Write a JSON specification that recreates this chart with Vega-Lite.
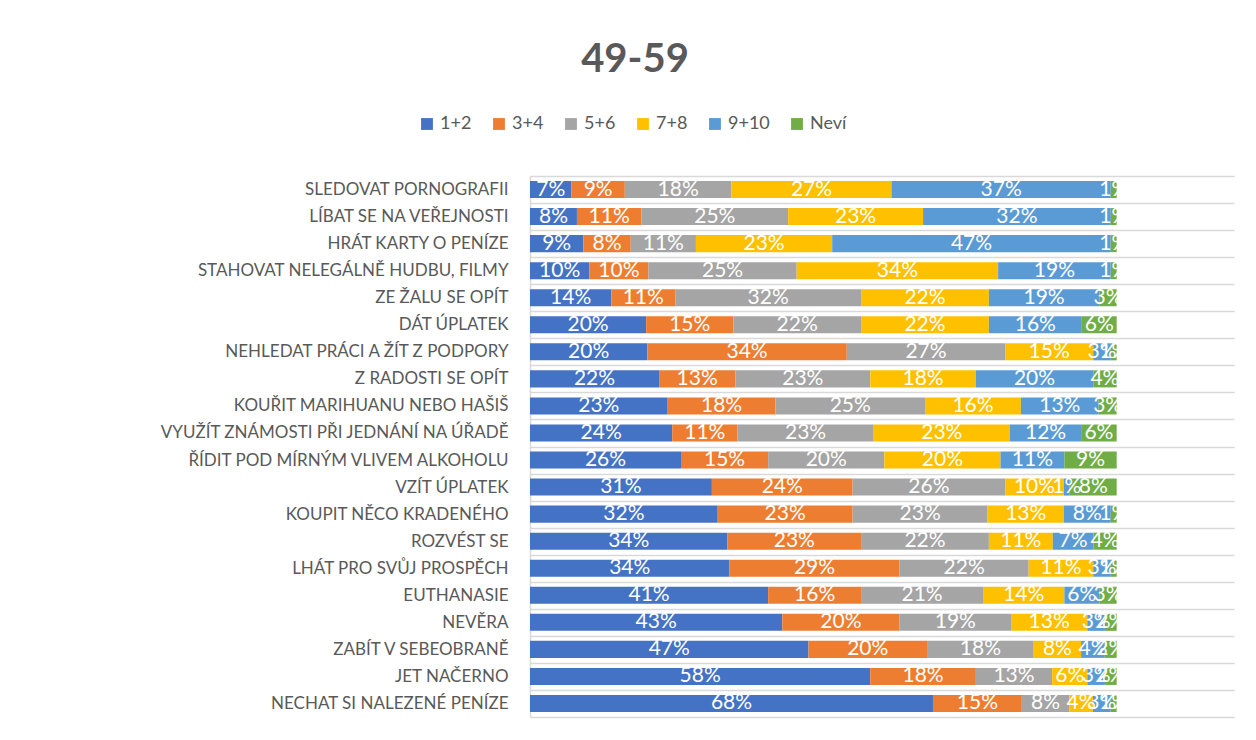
{
  "$schema": "https://vega.github.io/schema/vega-lite/v6.json",
  "autosize": {"type": "none"},
  "padding": {"left": 530, "top": 176, "right": 22, "bottom": 23},
  "width": 704,
  "height": 541,
  "background": "white",
  "title": {
    "text": "49-59",
    "anchor": "middle",
    "dx": -247,
    "offset": 35,
    "font": "Lato",
    "fontSize": 40,
    "fontWeight": "bold",
    "color": "#595959"
  },
  "data": {
    "values": [
      {"q": "SLEDOVAT PORNOGRAFII", "s": "1+2", "v": 0.07}, {"q": "SLEDOVAT PORNOGRAFII", "s": "3+4", "v": 0.09}, {"q": "SLEDOVAT PORNOGRAFII", "s": "5+6", "v": 0.18}, {"q": "SLEDOVAT PORNOGRAFII", "s": "7+8", "v": 0.27}, {"q": "SLEDOVAT PORNOGRAFII", "s": "9+10", "v": 0.37}, {"q": "SLEDOVAT PORNOGRAFII", "s": "Neví", "v": 0.01},
      {"q": "LÍBAT SE NA VEŘEJNOSTI", "s": "1+2", "v": 0.08}, {"q": "LÍBAT SE NA VEŘEJNOSTI", "s": "3+4", "v": 0.11}, {"q": "LÍBAT SE NA VEŘEJNOSTI", "s": "5+6", "v": 0.25}, {"q": "LÍBAT SE NA VEŘEJNOSTI", "s": "7+8", "v": 0.23}, {"q": "LÍBAT SE NA VEŘEJNOSTI", "s": "9+10", "v": 0.32}, {"q": "LÍBAT SE NA VEŘEJNOSTI", "s": "Neví", "v": 0.01},
      {"q": "HRÁT KARTY O PENÍZE", "s": "1+2", "v": 0.09}, {"q": "HRÁT KARTY O PENÍZE", "s": "3+4", "v": 0.08}, {"q": "HRÁT KARTY O PENÍZE", "s": "5+6", "v": 0.11}, {"q": "HRÁT KARTY O PENÍZE", "s": "7+8", "v": 0.23}, {"q": "HRÁT KARTY O PENÍZE", "s": "9+10", "v": 0.47}, {"q": "HRÁT KARTY O PENÍZE", "s": "Neví", "v": 0.01},
      {"q": "STAHOVAT NELEGÁLNĚ HUDBU, FILMY", "s": "1+2", "v": 0.10}, {"q": "STAHOVAT NELEGÁLNĚ HUDBU, FILMY", "s": "3+4", "v": 0.10}, {"q": "STAHOVAT NELEGÁLNĚ HUDBU, FILMY", "s": "5+6", "v": 0.25}, {"q": "STAHOVAT NELEGÁLNĚ HUDBU, FILMY", "s": "7+8", "v": 0.34}, {"q": "STAHOVAT NELEGÁLNĚ HUDBU, FILMY", "s": "9+10", "v": 0.19}, {"q": "STAHOVAT NELEGÁLNĚ HUDBU, FILMY", "s": "Neví", "v": 0.01},
      {"q": "ZE ŽALU SE OPÍT", "s": "1+2", "v": 0.14}, {"q": "ZE ŽALU SE OPÍT", "s": "3+4", "v": 0.11}, {"q": "ZE ŽALU SE OPÍT", "s": "5+6", "v": 0.32}, {"q": "ZE ŽALU SE OPÍT", "s": "7+8", "v": 0.22}, {"q": "ZE ŽALU SE OPÍT", "s": "9+10", "v": 0.19}, {"q": "ZE ŽALU SE OPÍT", "s": "Neví", "v": 0.03},
      {"q": "DÁT ÚPLATEK", "s": "1+2", "v": 0.20}, {"q": "DÁT ÚPLATEK", "s": "3+4", "v": 0.15}, {"q": "DÁT ÚPLATEK", "s": "5+6", "v": 0.22}, {"q": "DÁT ÚPLATEK", "s": "7+8", "v": 0.22}, {"q": "DÁT ÚPLATEK", "s": "9+10", "v": 0.16}, {"q": "DÁT ÚPLATEK", "s": "Neví", "v": 0.06},
      {"q": "NEHLEDAT PRÁCI A ŽÍT Z PODPORY", "s": "1+2", "v": 0.20}, {"q": "NEHLEDAT PRÁCI A ŽÍT Z PODPORY", "s": "3+4", "v": 0.34}, {"q": "NEHLEDAT PRÁCI A ŽÍT Z PODPORY", "s": "5+6", "v": 0.27}, {"q": "NEHLEDAT PRÁCI A ŽÍT Z PODPORY", "s": "7+8", "v": 0.15}, {"q": "NEHLEDAT PRÁCI A ŽÍT Z PODPORY", "s": "9+10", "v": 0.03}, {"q": "NEHLEDAT PRÁCI A ŽÍT Z PODPORY", "s": "Neví", "v": 0.01},
      {"q": "Z RADOSTI SE OPÍT", "s": "1+2", "v": 0.22}, {"q": "Z RADOSTI SE OPÍT", "s": "3+4", "v": 0.13}, {"q": "Z RADOSTI SE OPÍT", "s": "5+6", "v": 0.23}, {"q": "Z RADOSTI SE OPÍT", "s": "7+8", "v": 0.18}, {"q": "Z RADOSTI SE OPÍT", "s": "9+10", "v": 0.20}, {"q": "Z RADOSTI SE OPÍT", "s": "Neví", "v": 0.04},
      {"q": "KOUŘIT MARIHUANU NEBO HAŠIŠ", "s": "1+2", "v": 0.23}, {"q": "KOUŘIT MARIHUANU NEBO HAŠIŠ", "s": "3+4", "v": 0.18}, {"q": "KOUŘIT MARIHUANU NEBO HAŠIŠ", "s": "5+6", "v": 0.25}, {"q": "KOUŘIT MARIHUANU NEBO HAŠIŠ", "s": "7+8", "v": 0.16}, {"q": "KOUŘIT MARIHUANU NEBO HAŠIŠ", "s": "9+10", "v": 0.13}, {"q": "KOUŘIT MARIHUANU NEBO HAŠIŠ", "s": "Neví", "v": 0.03},
      {"q": "VYUŽÍT ZNÁMOSTI PŘI JEDNÁNÍ NA ÚŘADĚ", "s": "1+2", "v": 0.24}, {"q": "VYUŽÍT ZNÁMOSTI PŘI JEDNÁNÍ NA ÚŘADĚ", "s": "3+4", "v": 0.11}, {"q": "VYUŽÍT ZNÁMOSTI PŘI JEDNÁNÍ NA ÚŘADĚ", "s": "5+6", "v": 0.23}, {"q": "VYUŽÍT ZNÁMOSTI PŘI JEDNÁNÍ NA ÚŘADĚ", "s": "7+8", "v": 0.23}, {"q": "VYUŽÍT ZNÁMOSTI PŘI JEDNÁNÍ NA ÚŘADĚ", "s": "9+10", "v": 0.12}, {"q": "VYUŽÍT ZNÁMOSTI PŘI JEDNÁNÍ NA ÚŘADĚ", "s": "Neví", "v": 0.06},
      {"q": "ŘÍDIT POD MÍRNÝM VLIVEM ALKOHOLU", "s": "1+2", "v": 0.26}, {"q": "ŘÍDIT POD MÍRNÝM VLIVEM ALKOHOLU", "s": "3+4", "v": 0.15}, {"q": "ŘÍDIT POD MÍRNÝM VLIVEM ALKOHOLU", "s": "5+6", "v": 0.20}, {"q": "ŘÍDIT POD MÍRNÝM VLIVEM ALKOHOLU", "s": "7+8", "v": 0.20}, {"q": "ŘÍDIT POD MÍRNÝM VLIVEM ALKOHOLU", "s": "9+10", "v": 0.11}, {"q": "ŘÍDIT POD MÍRNÝM VLIVEM ALKOHOLU", "s": "Neví", "v": 0.09},
      {"q": "VZÍT ÚPLATEK", "s": "1+2", "v": 0.31}, {"q": "VZÍT ÚPLATEK", "s": "3+4", "v": 0.24}, {"q": "VZÍT ÚPLATEK", "s": "5+6", "v": 0.26}, {"q": "VZÍT ÚPLATEK", "s": "7+8", "v": 0.10}, {"q": "VZÍT ÚPLATEK", "s": "9+10", "v": 0.01}, {"q": "VZÍT ÚPLATEK", "s": "Neví", "v": 0.08},
      {"q": "KOUPIT NĚCO KRADENÉHO", "s": "1+2", "v": 0.32}, {"q": "KOUPIT NĚCO KRADENÉHO", "s": "3+4", "v": 0.23}, {"q": "KOUPIT NĚCO KRADENÉHO", "s": "5+6", "v": 0.23}, {"q": "KOUPIT NĚCO KRADENÉHO", "s": "7+8", "v": 0.13}, {"q": "KOUPIT NĚCO KRADENÉHO", "s": "9+10", "v": 0.08}, {"q": "KOUPIT NĚCO KRADENÉHO", "s": "Neví", "v": 0.01},
      {"q": "ROZVÉST SE", "s": "1+2", "v": 0.34}, {"q": "ROZVÉST SE", "s": "3+4", "v": 0.23}, {"q": "ROZVÉST SE", "s": "5+6", "v": 0.22}, {"q": "ROZVÉST SE", "s": "7+8", "v": 0.11}, {"q": "ROZVÉST SE", "s": "9+10", "v": 0.07}, {"q": "ROZVÉST SE", "s": "Neví", "v": 0.04},
      {"q": "LHÁT PRO SVŮJ PROSPĚCH", "s": "1+2", "v": 0.34}, {"q": "LHÁT PRO SVŮJ PROSPĚCH", "s": "3+4", "v": 0.29}, {"q": "LHÁT PRO SVŮJ PROSPĚCH", "s": "5+6", "v": 0.22}, {"q": "LHÁT PRO SVŮJ PROSPĚCH", "s": "7+8", "v": 0.11}, {"q": "LHÁT PRO SVŮJ PROSPĚCH", "s": "9+10", "v": 0.03}, {"q": "LHÁT PRO SVŮJ PROSPĚCH", "s": "Neví", "v": 0.01},
      {"q": "EUTHANASIE", "s": "1+2", "v": 0.41}, {"q": "EUTHANASIE", "s": "3+4", "v": 0.16}, {"q": "EUTHANASIE", "s": "5+6", "v": 0.21}, {"q": "EUTHANASIE", "s": "7+8", "v": 0.14}, {"q": "EUTHANASIE", "s": "9+10", "v": 0.06}, {"q": "EUTHANASIE", "s": "Neví", "v": 0.03},
      {"q": "NEVĚRA", "s": "1+2", "v": 0.43}, {"q": "NEVĚRA", "s": "3+4", "v": 0.20}, {"q": "NEVĚRA", "s": "5+6", "v": 0.19}, {"q": "NEVĚRA", "s": "7+8", "v": 0.13}, {"q": "NEVĚRA", "s": "9+10", "v": 0.03}, {"q": "NEVĚRA", "s": "Neví", "v": 0.02},
      {"q": "ZABÍT V SEBEOBRANĚ", "s": "1+2", "v": 0.47}, {"q": "ZABÍT V SEBEOBRANĚ", "s": "3+4", "v": 0.20}, {"q": "ZABÍT V SEBEOBRANĚ", "s": "5+6", "v": 0.18}, {"q": "ZABÍT V SEBEOBRANĚ", "s": "7+8", "v": 0.08}, {"q": "ZABÍT V SEBEOBRANĚ", "s": "9+10", "v": 0.04}, {"q": "ZABÍT V SEBEOBRANĚ", "s": "Neví", "v": 0.02},
      {"q": "JET NAČERNO", "s": "1+2", "v": 0.58}, {"q": "JET NAČERNO", "s": "3+4", "v": 0.18}, {"q": "JET NAČERNO", "s": "5+6", "v": 0.13}, {"q": "JET NAČERNO", "s": "7+8", "v": 0.06}, {"q": "JET NAČERNO", "s": "9+10", "v": 0.03}, {"q": "JET NAČERNO", "s": "Neví", "v": 0.02},
      {"q": "NECHAT SI NALEZENÉ PENÍZE", "s": "1+2", "v": 0.68}, {"q": "NECHAT SI NALEZENÉ PENÍZE", "s": "3+4", "v": 0.15}, {"q": "NECHAT SI NALEZENÉ PENÍZE", "s": "5+6", "v": 0.08}, {"q": "NECHAT SI NALEZENÉ PENÍZE", "s": "7+8", "v": 0.04}, {"q": "NECHAT SI NALEZENÉ PENÍZE", "s": "9+10", "v": 0.03}, {"q": "NECHAT SI NALEZENÉ PENÍZE", "s": "Neví", "v": 0.01}
    ]
  },
  "encoding": {
    "y": {
      "field": "q",
      "type": "nominal",
      "sort": null,
      "title": null,
      "scale": {"paddingInner": 0, "paddingOuter": 0},
      "axis": {
        "domain": true,
        "domainColor": "#d9d9d9",
        "domainWidth": 1.5,
        "grid": true,
        "gridColor": "#d9d9d9",
        "gridWidth": 1.5,
        "tickBand": "extent",
        "ticks": false,
        "labelFont": "Lato",
        "labelFontSize": 17,
        "labelColor": "#595959",
        "labelPadding": 22,
        "labelLimit": 600
      }
    },
    "x": {
      "field": "v",
      "type": "quantitative",
      "stack": "normalize",
      "scale": {"domain": [0, 1.2], "nice": false},
      "axis": null
    }
  },
  "layer": [
    {
      "mark": {"type": "bar", "height": {"band": 0.63}},
      "encoding": {
        "color": {
          "field": "s",
          "type": "nominal",
          "sort": ["1+2", "3+4", "5+6", "7+8", "9+10", "Neví"],
          "scale": {
            "domain": ["1+2", "3+4", "5+6", "7+8", "9+10", "Neví"],
            "range": ["#4472C4", "#ED7D31", "#A5A5A5", "#FFC000", "#5B9BD5", "#70AD47"]
          },
          "legend": {
            "title": null,
            "orient": "none",
            "direction": "horizontal",
            "legendX": -112,
            "legendY": -61,
            "symbolType": "square",
            "symbolSize": 140,
            "symbolStrokeWidth": 0,
            "labelFont": "Lato",
            "labelFontSize": 18,
            "labelColor": "#595959",
            "labelOffset": 4,
            "columnPadding": 18
          }
        },
        "order": {"field": "s", "sort": "ascending"}
      }
    },
    {
      "mark": {"type": "text", "color": "white", "font": "Lato", "fontSize": 21, "baseline": "middle", "align": "center"},
      "encoding": {
        "x": {"field": "v", "type": "quantitative", "stack": "normalize", "bandPosition": 0.5},
        "text": {"field": "v", "type": "quantitative", "format": ".0%"},
        "detail": {"field": "s"},
        "order": {"field": "s", "sort": "ascending"}
      }
    }
  ],
  "config": {"view": {"stroke": null}}
}
